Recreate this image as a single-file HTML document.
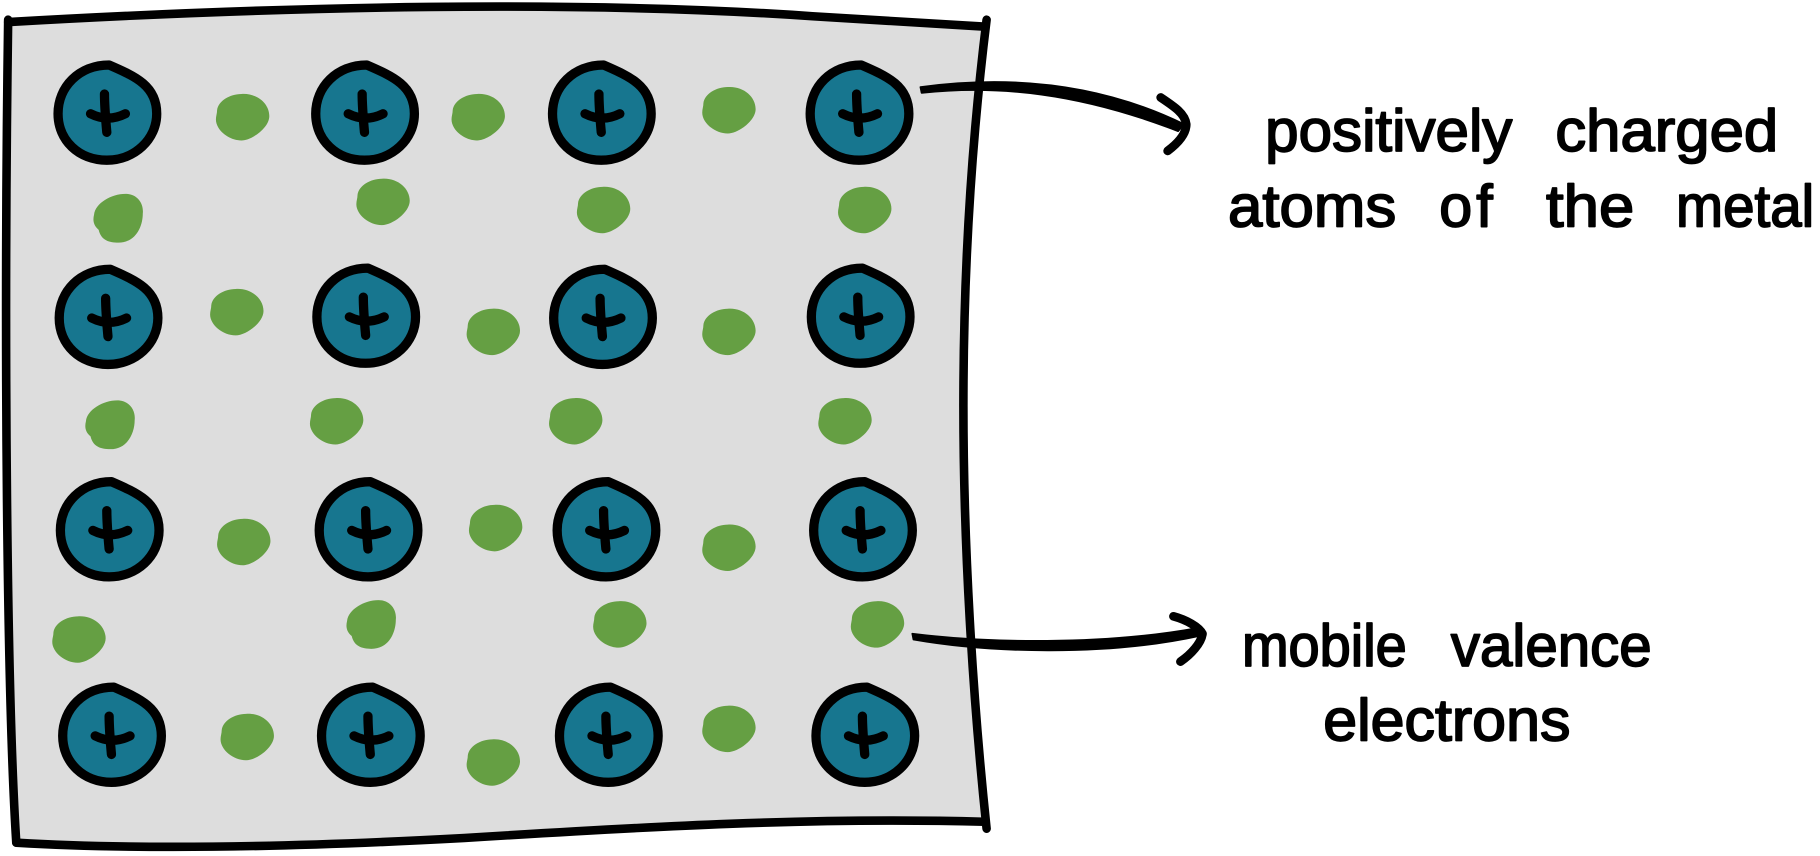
<!DOCTYPE html>
<html><head><meta charset="utf-8"><style>
html,body{margin:0;padding:0;background:#fff;width:1820px;height:856px;overflow:hidden}
svg{display:block}
text{font-family:"Liberation Sans",sans-serif;font-size:51px;fill:#000;stroke:#000;stroke-width:1.5;stroke-linejoin:round}
</style></head><body>
<svg width="1820" height="856" viewBox="0 0 1568 737.5" xmlns="http://www.w3.org/2000/svg">
<defs>
<g id="a">
<path d="M2,-41 C-24,-41 -42,-22 -42,1 C-42,24 -24,41 0,41 C24,41 43,23 43,1 C43,-23 25,-31 2,-41Z" fill="#17768f" stroke="#000" stroke-width="8" stroke-linejoin="round"/>
<path d="M-2,-16 C-2,-6 -1,6 0,17" fill="none" stroke="#000" stroke-width="8" stroke-linecap="round"/>
<path d="M-14,1 C-4,6 6,6 16,1" fill="none" stroke="#000" stroke-width="8" stroke-linecap="round"/>
</g>
<path id="e" d="M-1,-20 C12,-21 23,-12 23,-1 C23,9 8,20 -1,20 C-12,20 -23,11 -23,2 C-23,-1 -22,-3 -22,-6 C-21,-14 -11,-20 -1,-20Z" fill="#659f43"/>
<path id="v" d="M6,-21 C16,-21 22,-13 21,-4 C21,7 15,21 0,21 C-8,21 -15,19 -17,10 C-22,6 -22,1 -21,-3 C-20,-13 -6,-21 6,-21Z" fill="#659f43"/>
</defs>
<path d="M7,19 C250,5 500,0 700,14 C760,18 810,21 849,23 C836,130 830,240 830,350 C830,470 838,600 848,708 C700,704 560,712 400,722 C270,729 130,733 14,726 C6,600 3,300 7,19Z" fill="#dddddd"/>
<g fill="none" stroke="#000" stroke-width="7.4" stroke-linecap="round" stroke-linejoin="round">
<path d="M7,19 C250,5 500,0 700,14 C760,18 810,21 849,23"/>
<path d="M850,17 C836,130 830,240 830,350 C830,470 838,600 850,714"/>
<path d="M848,708 C700,704 560,712 400,722 C270,729 130,733 14,726"/>
<path d="M7,17 C3,300 6,600 14,726"/>
</g>
<use href="#a" x="92" y="97"/><use href="#a" x="314" y="97"/><use href="#a" x="518" y="97"/><use href="#a" x="740" y="97"/>
<use href="#a" x="93" y="273"/><use href="#a" x="315" y="272"/><use href="#a" x="519" y="273"/><use href="#a" x="741" y="272"/>
<use href="#a" x="94" y="456"/><use href="#a" x="317" y="456"/><use href="#a" x="522" y="456"/><use href="#a" x="743" y="456"/>
<use href="#a" x="96" y="633"/><use href="#a" x="319" y="633"/><use href="#a" x="524" y="633"/><use href="#a" x="745" y="633"/>
<use href="#e" x="209" y="101"/><use href="#e" x="412" y="101"/><use href="#e" x="628" y="95"/>
<use href="#v" x="102" y="188"/><use href="#e" x="330" y="174"/><use href="#e" x="520" y="181"/><use href="#e" x="745" y="181"/>
<use href="#e" x="204" y="269"/><use href="#e" x="425" y="286"/><use href="#e" x="628" y="286"/>
<use href="#v" x="95" y="366"/><use href="#e" x="290" y="363"/><use href="#e" x="496" y="363"/><use href="#e" x="728" y="363"/>
<use href="#e" x="210" y="467"/><use href="#e" x="427" y="455"/><use href="#e" x="628" y="472"/>
<use href="#e" x="68" y="551"/><use href="#v" x="320" y="538"/><use href="#e" x="534" y="538"/><use href="#e" x="756" y="538"/>
<use href="#e" x="213" y="635"/><use href="#e" x="425" y="657"/><use href="#e" x="628" y="628"/>
<path d="M793,75 C860,66 940,68 1020,107 L1015,113 C930,80 860,73 794,80Z" fill="#000" stroke="#000" stroke-width="1.5" stroke-linejoin="round"/>
<path d="M1000,84 C1012,92 1021,98 1022,107 C1022,116 1014,124 1006,130" fill="none" stroke="#000" stroke-width="7.5" stroke-linecap="round" stroke-linejoin="round"/>
<path d="M786,546 C850,554 950,556 1032,541 L1033,548 C950,566 850,562 787,551Z" fill="#000" stroke="#000" stroke-width="1.5" stroke-linejoin="round"/>
<path d="M1011,531 C1022,534 1033,540 1036,546 C1035,554 1026,564 1017,570" fill="none" stroke="#000" stroke-width="7.5" stroke-linecap="round" stroke-linejoin="round"/>
<text x="1090" y="130" textLength="213" lengthAdjust="spacingAndGlyphs">positively</text>
<text x="1340" y="130" textLength="192" lengthAdjust="spacingAndGlyphs">charged</text>
<text x="1058" y="195" textLength="145" lengthAdjust="spacingAndGlyphs">atoms</text>
<text x="1240" y="195" textLength="46" lengthAdjust="spacing">of</text>
<text x="1332" y="195" textLength="76" lengthAdjust="spacingAndGlyphs">the</text>
<text x="1444" y="195" textLength="119" lengthAdjust="spacingAndGlyphs">metal</text>
<text x="1070" y="574" textLength="142" lengthAdjust="spacingAndGlyphs">mobile</text>
<text x="1250" y="574" textLength="173" lengthAdjust="spacingAndGlyphs">valence</text>
<text x="1140" y="638" textLength="213" lengthAdjust="spacingAndGlyphs">electrons</text>
</svg>
</body></html>
